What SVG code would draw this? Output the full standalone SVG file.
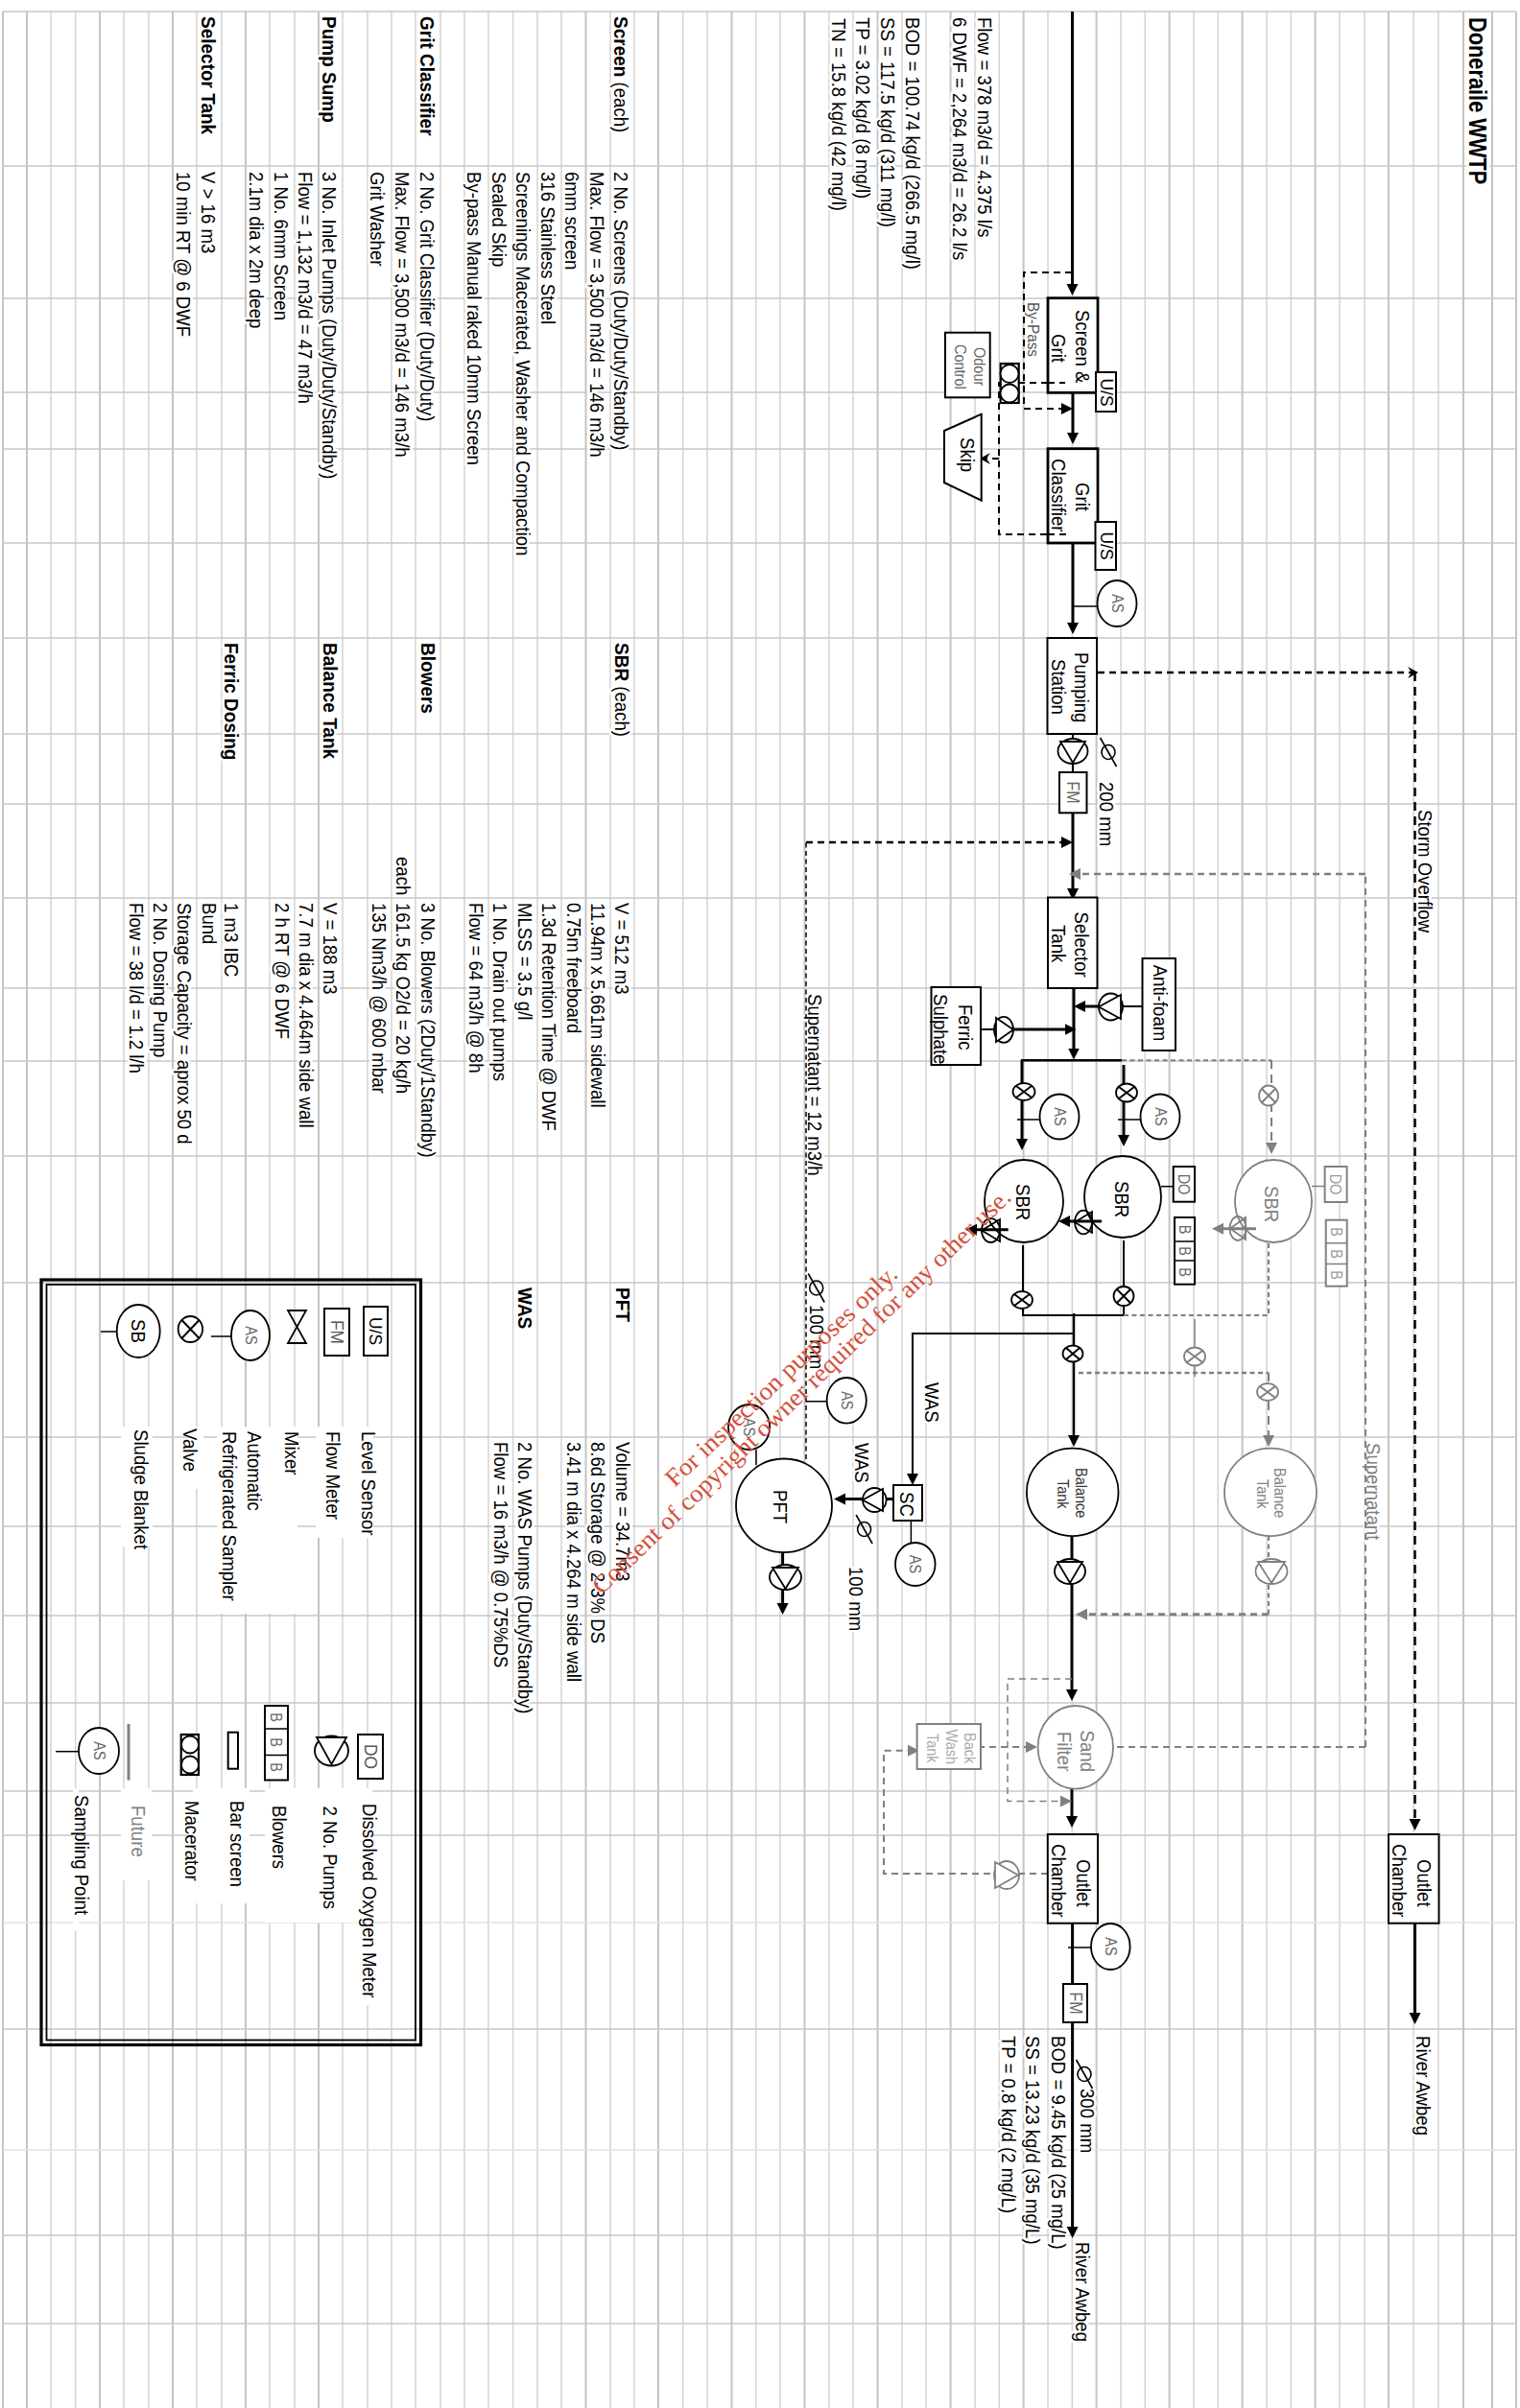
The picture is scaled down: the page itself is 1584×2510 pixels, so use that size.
<svg xmlns="http://www.w3.org/2000/svg" xmlns:xlink="http://www.w3.org/1999/xlink" width="1584" height="2510" viewBox="0 0 1584 2510">
<style>
text{font-family:"Liberation Sans",Arial,sans-serif;font-size:18.6px;fill:#000}
.lbl{paint-order:stroke;stroke:#fff;stroke-width:5px;stroke-linejoin:round}
.b{font-weight:bold;font-size:19px}
.gt{fill:#808080}
.dk{fill:#555}
.s{font-size:14.5px;fill:#666}
.m{text-anchor:middle}
.wm{font-family:"Liberation Serif","Times New Roman",serif;font-size:26px;fill:#d4503c}
.box{fill:#fff;stroke:#000;stroke-width:2}
.thick{stroke-width:2.8}
.gbox{fill:#fff;stroke:#808080;stroke-width:2}
.sym{fill:#fff;stroke:#000;stroke-width:1.8}
.gsym{fill:#fff;stroke:#808080;stroke-width:1.8}
.c{fill:none;stroke:#000;stroke-width:2}
.g{fill:none;stroke:#808080;stroke-width:2}
.w3{stroke-width:3}
.w15{stroke-width:1.5}
.d{stroke-dasharray:7 5}
.dl{stroke-dasharray:9 6}
.ds{stroke-dasharray:5 3.5}
.ak{marker-end:url(#ak)}
.ag{marker-end:url(#ag)}
.bk{marker-end:url(#bk)}
</style>
<defs>
<marker id="ak" markerUnits="userSpaceOnUse" markerWidth="13" markerHeight="13" refX="6" refY="6" orient="auto"><path d="M0 0L12 6L0 12Z" fill="#000"/></marker>
<marker id="ag" markerUnits="userSpaceOnUse" markerWidth="13" markerHeight="13" refX="6" refY="6" orient="auto"><path d="M0 0L12 6L0 12Z" fill="#808080"/></marker>
<marker id="bk" markerUnits="userSpaceOnUse" markerWidth="13" markerHeight="13" refX="9" refY="6" orient="auto"><path d="M0 0L11 6L0 12L4 6Z" fill="#000"/></marker>
<g id="dia"><ellipse cx="0" cy="0" rx="7" ry="7.5" fill="none" stroke="#000" stroke-width="1.6"/><path d="M-8.5 -15L8.5 15" stroke="#000" stroke-width="1.6" fill="none"/></g>
</defs>
<rect width="1584" height="2510" fill="#fff"/>
<g id="grid" fill="none">
<path stroke="#d4d4d4" stroke-width="1.5" d="M53 12V2510M78.7 12V2510M129 12V2510M155 12V2510M205 12V2510M231 12V2510M281 12V2510M307 12V2510M357 12V2510M383 12V2510M408 12V2510M433 12V2510M459 12V2510M484 12V2510M509 12V2510M534.6 12V2510M560 12V2510M585 12V2510M636 12V2510M661 12V2510M711.7 12V2510M737 12V2510M787.7 12V2510M813 12V2510M864 12V2510M889 12V2510M940 12V2510M965 12V2510M1016 12V2510M1041.3 12V2510M1092 12V2510M1117.3 12V2510M1168 12V2510M1193.3 12V2510M1244 12V2510M1269.3 12V2510M1320 12V2510M1345.3 12V2510M1396 12V2510M1422 12V2510M1473 12V2510M1499 12V2510"/>
<path stroke="#c4c4c4" stroke-width="2" d="M3 12V2510M28 12V2510M104 12V2510M180 12V2510M256 12V2510M332 12V2510M610.5 12V2510M686 12V2510M762.5 12V2510M838.5 12V2510M914.6 12V2510M990.6 12V2510M1066.6 12V2510M1142.6 12V2510M1218.6 12V2510M1294.6 12V2510M1370.6 12V2510M1447 12V2510M1525 12V2510M1555 12V2510M1580 12V2510"/>
<path stroke="#c8c8c8" stroke-width="1.5" d="M3 12H1580M3 173H1580M3 311H1580M3 409H1580M3 468H1580M3 566H1580M3 665H1580M3 765H1580M3 838H1580M3 936H1580M3 1030H1580M3 1106H1580M3 1205H1580M3 1337H1580M3 1498H1580M3 1591H1580M3 1684H1580M3 1775H1580M3 1867H1580M3 1913H1580M3 2115H1580M3 2330H1580M3 2422H1580"/>
<path stroke="#e2e2e2" stroke-width="1.5" d="M3 2004H1580M3 2241H1580"/>
</g>
<g id="legend-masks" fill="#fff">
<rect x="329" y="1487" width="60" height="116"/>
<rect x="226" y="1487" width="84" height="195"/>
<rect x="200" y="1487" width="12" height="65"/>
<rect x="126" y="1487" width="33" height="125"/>
<rect x="276" y="1864" width="112" height="140"/>
<rect x="380" y="1864" width="8" height="226"/>
<rect x="201" y="1864" width="59" height="120"/>
<rect x="76" y="1864" width="6" height="148"/>
<rect x="126" y="1864" width="32" height="96"/>
</g>
<g id="notes">
<text class="b lbl" transform="matrix(0 1 -1.16 0 1531 18)" style="font-size:21.8px">Doneraile WWTP</text>
<text class="lbl" transform="matrix(0 1 -1.1 0 1019 18)">Flow = 378 m3/d = 4.375 l/s</text>
<text class="lbl" transform="matrix(0 1 -1.1 0 993 18)">6 DWF = 2,264 m3/d = 26.2 l/s</text>
<text class="lbl" transform="matrix(0 1 -1.1 0 944 18)">BOD = 100.74 kg/d (266.5 mg/l)</text>
<text class="lbl" transform="matrix(0 1 -1.1 0 917.5 18)">SS = 117.5 kg/d (311 mg/l)</text>
<text class="lbl" transform="matrix(0 1 -1.1 0 892 18)">TP = 3.02 kg/d (8 mg/l)</text>
<text class="lbl" transform="matrix(0 1 -1.1 0 867 19)">TN = 15.8 kg/d (42 mg/l)</text>
</g>
<g id="specs" transform="translate(1.5 0)">
<text class="lbl" transform="matrix(0 1 -1.1 0 638 17)"><tspan class="b">Screen</tspan> (each)</text>
<text class="lbl" transform="matrix(0 1 -1.1 0 638 179)">2 No. Screens (Duty/Duty/Standby)</text>
<text class="lbl" transform="matrix(0 1 -1.1 0 613 179)">Max. Flow = 3,500 m3/d = 146 m3/h</text>
<text class="lbl" transform="matrix(0 1 -1.1 0 587 179)">6mm screen</text>
<text class="lbl" transform="matrix(0 1 -1.1 0 562 179)">316 Stainless Steel</text>
<text class="lbl" transform="matrix(0 1 -1.1 0 536 179)">Screenings Macerated, Washer and Compaction</text>
<text class="lbl" transform="matrix(0 1 -1.1 0 511 179)">Sealed Skip</text>
<text class="lbl" transform="matrix(0 1 -1.1 0 485 179)">By-pass Manual raked 10mm Screen</text>
<text class="b lbl" transform="matrix(0 1 -1.1 0 436 17)">Grit Classifier</text>
<text class="lbl" transform="matrix(0 1 -1.1 0 436 179)">2 No. Grit Classifier (Duty/Duty)</text>
<text class="lbl" transform="matrix(0 1 -1.1 0 410 179)">Max. Flow = 3,500 m3/d = 146 m3/h</text>
<text class="lbl" transform="matrix(0 1 -1.1 0 384 179)">Grit Washer</text>
<text class="b lbl" transform="matrix(0 1 -1.1 0 334 17)">Pump Sump</text>
<text class="lbl" transform="matrix(0 1 -1.1 0 334 179)">3 No. Inlet Pumps (Duty/Duty/Standby)</text>
<text class="lbl" transform="matrix(0 1 -1.1 0 309 179)">Flow = 1,132 m3/d = 47 m3/h</text>
<text class="lbl" transform="matrix(0 1 -1.1 0 284 179)">1 No. 6mm Screen</text>
<text class="lbl" transform="matrix(0 1 -1.1 0 258 179)">2.1m dia x 2m deep</text>
<text class="b lbl" transform="matrix(0 1 -1.1 0 208 17)">Selector Tank</text>
<text class="lbl" transform="matrix(0 1 -1.1 0 208 179)">V &gt; 16 m3</text>
<text class="lbl" transform="matrix(0 1 -1.1 0 182 179)">10 min RT @ 6 DWF</text>

<text class="lbl" transform="matrix(0 1 -1.1 0 639 670)"><tspan class="b">SBR</tspan> (each)</text>
<text class="lbl" transform="matrix(0 1 -1.1 0 639 941)">V = 512 m3</text>
<text class="lbl" transform="matrix(0 1 -1.1 0 614 941)">11.94m x 5.661m sidewall</text>
<text class="lbl" transform="matrix(0 1 -1.1 0 589 941)">0.75m freeboard</text>
<text class="lbl" transform="matrix(0 1 -1.1 0 563.6 941)">1.3d Retention Time @ DWF</text>
<text class="lbl" transform="matrix(0 1 -1.1 0 538.6 941)">MLSS = 3.5 g/l</text>
<text class="lbl" transform="matrix(0 1 -1.1 0 512.5 941)">1 No. Drain out pumps</text>
<text class="lbl" transform="matrix(0 1 -1.1 0 487.5 941)">Flow = 64 m3/h @ 8h</text>
<text class="b lbl" transform="matrix(0 1 -1.1 0 437 670)">Blowers</text>
<text class="lbl" transform="matrix(0 1 -1.1 0 437 941)">3 No. Blowers (2Duty/1Standby)</text>
<text class="lbl" transform="matrix(0 1 -1.1 0 411 893)">each</text>
<text class="lbl" transform="matrix(0 1 -1.1 0 411 941)">161.5 kg O2/d = 20 kg/h</text>
<text class="lbl" transform="matrix(0 1 -1.1 0 386 941)">135 Nm3/h @ 600 mbar</text>
<text class="b lbl" transform="matrix(0 1 -1.1 0 335 670)">Balance Tank</text>
<text class="lbl" transform="matrix(0 1 -1.1 0 335 941)">V = 188 m3</text>
<text class="lbl" transform="matrix(0 1 -1.1 0 310 941)">7.7 m dia x 4.464m side wall</text>
<text class="lbl" transform="matrix(0 1 -1.1 0 285 941)">2 h RT @ 6 DWF</text>
<text class="b lbl" transform="matrix(0 1 -1.1 0 232 670)">Ferric Dosing</text>
<text class="lbl" transform="matrix(0 1 -1.1 0 232 941)">1 m3 IBC</text>
<text class="lbl" transform="matrix(0 1 -1.1 0 209 941)">Bund</text>
<text class="lbl" transform="matrix(0 1 -1.1 0 183 941)">Storage Capacity = aprox 50 d</text>
<text class="lbl" transform="matrix(0 1 -1.1 0 158 941)">2 No. Dosing Pump</text>
<text class="lbl" transform="matrix(0 1 -1.1 0 133 941)">Flow = 38 l/d = 1.2 l/h</text>

<text class="b lbl" transform="matrix(0 1 -1.1 0 640 1342)">PFT</text>
<text class="lbl" transform="matrix(0 1 -1.1 0 640 1503)">Volume = 34.7m3</text>
<text class="lbl" transform="matrix(0 1 -1.1 0 614 1503)">8.6d Storage @ 2-3% DS</text>
<text class="lbl" transform="matrix(0 1 -1.1 0 589 1503)">3.41 m dia x 4.264 m side wall</text>
<text class="b lbl" transform="matrix(0 1 -1.1 0 538 1342)">WAS</text>
<text class="lbl" transform="matrix(0 1 -1.1 0 538 1503)">2 No. WAS Pumps (Duty/Standby)</text>
<text class="lbl" transform="matrix(0 1 -1.1 0 513 1503)">Flow = 16 m3/h @ 0.75%DS</text>
</g>
<g id="labels">
<text class="lbl" transform="matrix(0 1 -1.1 0 1478 844)">Storm Overflow</text>
<text class="lbl" transform="matrix(0 1 -1.1 0 842 1036)">Supernatant = 12 m3/h</text>
<text class="lbl gt" transform="matrix(0 1 -1.1 0 1424 1504)">Supernatant</text>
<text class="lbl dk" transform="matrix(0 1 -1.1 0 1071 315)" style="font-size:15.3px">By-Pass</text>
<text class="lbl" transform="matrix(0 1 -1.1 0 1146 815)">200 mm</text>
<text class="lbl" transform="matrix(0 1 -1.1 0 964 1441)">WAS</text>
<text class="lbl" transform="matrix(0 1 -1.1 0 891 1504)">WAS</text>
<text class="lbl" transform="matrix(0 1 -1.1 0 885 1633)">100 mm</text>
<text class="lbl" transform="matrix(0 1 -1.1 0 844 1360)">100 mm</text>
<text class="lbl" transform="matrix(0 1 -1.1 0 1125.5 2177)">300 mm</text>
<text class="lbl" transform="matrix(0 1 -1.1 0 1095.5 2122)">BOD = 9.45 kg/d (25 mg/L)</text>
<text class="lbl" transform="matrix(0 1 -1.1 0 1069 2122)">SS = 13.23 kg/d (35 mg/L)</text>
<text class="lbl" transform="matrix(0 1 -1.1 0 1044 2122)">TP = 0.8 kg/d (2 mg/L)</text>
<text class="lbl" transform="matrix(0 1 -1.1 0 1476 2122)">River Awbeg</text>
<text class="lbl" transform="matrix(0 1 -1.1 0 1121 2337)">River Awbeg</text>
</g>
<g id="connectors">
<path class="c w3 ak" d="M1117.5 12V302"/>
<path class="c w3 ak" d="M1118 409V457"/>
<path class="c w3 ak" d="M1118 566V655"/>
<path class="c w15" d="M1118 632H1144"/>
<path class="c" d="M1118 765V805"/>
<path class="c w3 ak" d="M1118 847V932"/>
<path class="c d ak" d="M1117 284H1067V426H1112"/>
<path class="c d" d="M1092 399H1041V557H1092"/>
<path class="c d bk" d="M1041 478H1023"/>
<path class="c d bk" d="M1144 701H1476" style="stroke-width:2.5"/>
<path class="c dl ak" d="M1474.5 701V1902" style="stroke-width:2.5"/>
<path class="c w15 ds" d="M840 1521V878"/>
<path class="c d ak" d="M840 878H1112" style="stroke-width:2.6"/>
<path class="g d" d="M1423 1821V911"/>
<path class="g d ag" d="M1423 911H1120" style="stroke-width:2.6"/>
<path class="g d" d="M1423 1821H1160"/>
<path class="c w3 ak" d="M1119 1030V1098.5"/>
<path class="c" d="M1191 1049H1170"/>
<path class="c w3 ak" d="M1145 1049H1125"/>
<path class="c" d="M1016 1073H1036"/>
<path class="c w3 ak" d="M1056 1073H1115.5"/>
<path class="c" d="M1064 1105.3H1169" style="stroke-width:2.5"/>
<path class="g ds" d="M1169 1105.3H1325"/>
<path class="g dl ag" d="M1325 1105V1197"/>
<path class="c w3 ak" d="M1065 1105V1193"/>
<path class="c w3 ak" d="M1171 1110V1189"/>
<path class="c w15" d="M1060 1167H1084M1165 1167H1189"/>
<path class="c" d="M1066 1298V1371H1171V1293"/>
<path class="g ds" d="M1171 1371H1322V1295"/>
<path class="c w3 ak" d="M1119 1369V1502" style="stroke-width:2.5"/>
<path class="c ak" d="M1119 1390H951V1542"/>
<path class="g w15" d="M1245 1375V1435"/>
<path class="g ds" d="M1124 1431H1322" style="stroke-width:2.6"/>
<path class="g dl ag" d="M1322 1431V1502"/>
<path class="g ds" d="M1322 1601V1684"/>
<path class="g d ag" d="M1322 1682.7H1127" style="stroke-width:3"/>
<path class="c w3 ak" d="M1117 1601V1767"/>
<path class="c w3 ak" d="M1117 1864V1899"/>
<path class="c w3 ak" d="M1117.6 2005V2327"/>
<path class="c w15" d="M1113 2030H1137"/>
<path class="c w3 ak" d="M1474.5 2005V2104"/>
<path class="g d ag" d="M1019 1821H1075"/>
<path class="g w15 d ag" d="M1117 1750H1050V1877.5H1111"/>
<path class="g d ag" d="M1092 1953H921V1824.7H952"/>
<path class="c w3 ak" d="M931 1562.5H875"/>
<path class="c w15" d="M949.4 1585V1608M840 1460.7H862M788 1511V1527"/>
<path class="c w3 ak" d="M815.6 1618V1677"/>
<path class="c w15" d="M1210 1236.7H1223"/>
<path class="g w15" d="M1367 1236.5H1381"/>
</g>
<g id="screen"><rect class="box thick" x="1092" y="310.7" width="52" height="98.6"/><text transform="matrix(0 1 -1.1 0 1121 323)">Screen  &amp;</text><text transform="matrix(0 1 -1.1 0 1096 348)">Grit</text></g>
<g id="us1"><rect class="box" x="1142" y="388" width="21" height="41"/><text class="m" transform="matrix(0 1 -1.1 0 1147 409)" style="font-size:17.4px">U/S</text></g>
<g id="grit"><rect class="box thick" x="1092" y="467.7" width="52" height="98.3"/><text transform="matrix(0 1 -1.1 0 1121 503)">Grit</text><text transform="matrix(0 1 -1.1 0 1096 478)">Classifier</text></g>
<g id="us2"><rect class="box" x="1141.5" y="544" width="21.5" height="50"/><text class="m" transform="matrix(0 1 -1.1 0 1147 569)" style="font-size:17.4px">U/S</text></g>
<g id="odour"><rect class="box" x="985" y="346.7" width="46.7" height="67.6"/><text class="s" transform="matrix(0 1 -1.1 0 1015 362)">Odour</text><text class="s" transform="matrix(0 1 -1.1 0 995 359)">Control</text></g>
<g id="macerator"><rect class="sym" x="1042.7" y="379" width="19" height="41" style="stroke-width:2.2"/><circle class="sym" cx="1052" cy="389.5" r="9.5"/><circle class="sym" cx="1052" cy="410" r="9.5"/></g>
<g id="skip"><path class="box" d="M984 449L1022.7 431.7V521.7L984 503Z"/><text transform="matrix(0 1 -1.1 0 1001 456)">Skip</text></g>
<g id="as-grit"><ellipse class="sym" cx="1164" cy="629" rx="20.5" ry="24"/><text class="s m" transform="matrix(0 1 -1.1 0 1158.5 629)">AS</text></g>
<g id="pumping"><rect class="box" x="1091.5" y="665" width="51.5" height="100"/><text transform="matrix(0 1 -1.1 0 1120 680)">Pumping</text><text transform="matrix(0 1 -1.1 0 1096 687)">Station</text></g>
<g id="pump-inlet"><ellipse class="sym" cx="1118" cy="783" rx="15.5" ry="13"/><path class="sym" d="M1105 773H1131L1118 795Z"/></g>
<use xlink:href="#dia" href="#dia" x="1155" y="784"/>
<g id="fm1"><rect class="box" x="1104" y="805" width="28.5" height="42.3"/><text class="s m" transform="matrix(0 1 -1.1 0 1112 826)" style="font-size:16px">FM</text></g>
<g id="selector"><rect class="box" x="1092" y="935.5" width="51.5" height="94.5"/><text transform="matrix(0 1 -1.1 0 1120 950.6)">Selector</text><text transform="matrix(0 1 -1.1 0 1096 964)">Tank</text></g>
<g id="antifoam"><rect class="box" x="1190.5" y="999" width="34.5" height="96"/><text transform="matrix(0 1 -1.1 0 1201.5 1005.7)">Anti-foam</text></g>
<g id="pump-antifoam"><ellipse class="sym" cx="1157.5" cy="1049.5" rx="12.5" ry="14"/><path class="sym" d="M1168 1037V1062L1145 1049.5Z"/></g>
<g id="ferric"><rect class="box" x="970.5" y="1029" width="51.5" height="81"/><text transform="matrix(0 1 -1.1 0 998.5 1047)">Ferric</text><text transform="matrix(0 1 -1.1 0 972.5 1036)">Sulphate</text></g>
<g id="pump-ferric"><ellipse class="sym" cx="1046" cy="1073.3" rx="10" ry="13.5"/><path class="sym" d="M1038 1061V1086L1056 1073.3Z"/></g>
<g id="valves-in">
<ellipse class="sym" cx="1067" cy="1138" rx="11.5" ry="9"/><path class="c" d="M1059 1132L1075 1144M1075 1132L1059 1144"/>
<ellipse class="sym" cx="1174" cy="1139" rx="11" ry="9.5"/><path class="c" d="M1166 1133L1182 1145M1182 1133L1166 1145"/>
<ellipse class="gsym" cx="1322" cy="1142" rx="10" ry="10.5"/><path class="g" d="M1315 1135L1329 1149M1329 1135L1315 1149"/>
</g>
<g id="as-sbr1"><ellipse class="sym" cx="1104" cy="1164" rx="20.5" ry="23.5"/><text class="s m" transform="matrix(0 1 -1.1 0 1098.5 1164)">AS</text></g>
<g id="as-sbr2"><ellipse class="sym" cx="1209" cy="1164" rx="20.5" ry="23.5"/><text class="s m" transform="matrix(0 1 -1.1 0 1203.5 1164)">AS</text></g>
<g id="sbr1"><ellipse class="sym" cx="1067" cy="1252" rx="41" ry="43"/><text transform="matrix(0 1 -1.1 0 1059 1234)">SBR</text></g>
<g id="sbr2"><ellipse class="sym" cx="1170" cy="1247.5" rx="40" ry="42.5"/><text transform="matrix(0 1 -1.1 0 1162 1231)">SBR</text></g>
<g id="sbr3"><ellipse class="gsym" cx="1327" cy="1252" rx="40" ry="43"/><text class="gt" transform="matrix(0 1 -1.1 0 1318 1236)">SBR</text></g>
<g id="do1"><rect class="box" x="1222.7" y="1216" width="22.3" height="36.7"/><text class="s m" transform="matrix(0 1 -1.1 0 1228 1234.5)">DO</text></g>
<g id="do2"><rect class="gbox" x="1380.6" y="1216" width="23" height="37"/><text class="s m" style="fill:#999" transform="matrix(0 1 -1.1 0 1386 1234.5)">DO</text></g>
<g id="blowers1"><rect class="box" x="1224" y="1269" width="21" height="69.7"/><path class="c w15" d="M1224 1294H1245M1224 1314H1245"/><text class="s m" transform="matrix(0 1 -1.1 0 1229 1281.5)">B</text><text class="s m" transform="matrix(0 1 -1.1 0 1229 1304)">B</text><text class="s m" transform="matrix(0 1 -1.1 0 1229 1326)">B</text></g>
<g id="blowers2"><rect class="gbox" x="1381.7" y="1271.7" width="22" height="69"/><path class="g w15" d="M1381.7 1295.8H1403.7M1381.7 1317.6H1403.7"/><text class="s m" style="fill:#999" transform="matrix(0 1 -1.1 0 1387 1284)">B</text><text class="s m" style="fill:#999" transform="matrix(0 1 -1.1 0 1387 1307)">B</text><text class="s m" style="fill:#999" transform="matrix(0 1 -1.1 0 1387 1329)">B</text></g>
<g id="pump-sbr2"><ellipse class="sym" cx="1129" cy="1274" rx="9" ry="12.3" style="fill:none"/><path class="sym" d="M1138 1263V1285L1120 1274Z" style="fill:none"/></g>
<g id="pump-sbr1"><ellipse class="sym" cx="1032.5" cy="1282.5" rx="9.5" ry="12.5" style="fill:none"/><path class="sym" d="M1042 1271V1294L1023 1282.5Z" style="fill:none"/></g>
<g id="pump-sbr3"><ellipse class="gsym" cx="1290" cy="1280.5" rx="8.5" ry="12.5" style="fill:none"/><path class="gsym" d="M1298 1269V1292L1282 1280.5Z" style="fill:none"/></g>
<g id="valves-out">
<ellipse class="sym" cx="1065" cy="1355" rx="11" ry="9"/><path class="c" d="M1057 1349L1073 1361M1073 1349L1057 1361"/>
<ellipse class="sym" cx="1171" cy="1351" rx="10.5" ry="10"/><path class="c" d="M1164 1344L1178 1358M1178 1344L1164 1358"/>
<ellipse class="sym" cx="1118" cy="1411" rx="10.5" ry="8.5"/><path class="c" d="M1111 1405L1125 1417M1125 1405L1111 1417"/>
<ellipse class="gsym" cx="1245" cy="1414" rx="11" ry="9.5"/><path class="g" d="M1237 1408L1253 1420M1253 1408L1237 1420"/>
<ellipse class="gsym" cx="1321" cy="1451" rx="11" ry="9"/><path class="g" d="M1313 1445L1329 1457M1329 1445L1313 1457"/>
</g>
<g id="was-sc"><rect class="box" x="931" y="1548" width="30" height="37"/><text transform="matrix(0 1 -1.1 0 938 1555)">SC</text></g>
<g id="as-was"><ellipse class="sym" cx="953.8" cy="1630.5" rx="20.8" ry="22.5"/><text class="s m" transform="matrix(0 1 -1.1 0 948.3 1630.5)">AS</text></g>
<g id="pump-was"><ellipse class="sym" cx="911.3" cy="1563.5" rx="12.3" ry="12.5"/><path class="sym" d="M920 1552V1575L899 1563.5Z"/></g>
<use xlink:href="#dia" href="#dia" x="900.6" y="1594"/>
<use xlink:href="#dia" href="#dia" x="850.7" y="1342.5"/>
<use xlink:href="#dia" href="#dia" x="1130" y="2162"/>
<g id="as-super"><ellipse class="sym" cx="882.2" cy="1459.8" rx="20.6" ry="23.8"/><text class="s m" transform="matrix(0 1 -1.1 0 876.7 1459.8)">AS</text></g>
<g id="as-pft"><ellipse class="sym" cx="780.6" cy="1487.5" rx="21.6" ry="23.5"/><text class="s m" transform="matrix(0 1 -1.1 0 775 1487.5)">AS</text></g>
<g id="pft"><ellipse class="sym" cx="817" cy="1569.3" rx="50" ry="48.8"/><text transform="matrix(0 1 -1.1 0 805.7 1553)">PFT</text></g>
<g id="pump-pft"><ellipse class="sym" cx="818.5" cy="1644" rx="16.5" ry="13"/><path class="sym" d="M805 1634H832L818.5 1656Z"/></g>
<g id="balance"><ellipse class="sym" cx="1117.7" cy="1555.4" rx="47.8" ry="45.7"/><text class="s" style="fill:#333" transform="matrix(0 1 -1.1 0 1121 1530)">Balance</text><text class="s" style="fill:#333" transform="matrix(0 1 -1.1 0 1102 1542)">Tank</text></g>
<g id="balance2"><ellipse class="gsym" cx="1324" cy="1555.4" rx="48" ry="45.7"/><text class="s" style="fill:#808080" transform="matrix(0 1 -1.1 0 1328 1530)">Balance</text><text class="s" style="fill:#808080" transform="matrix(0 1 -1.1 0 1310 1542)">Tank</text></g>
<g id="pump-bal"><ellipse class="sym" cx="1115" cy="1638" rx="16" ry="13"/><path class="sym" d="M1102 1628H1128L1115 1650Z"/></g>
<g id="pump-bal2"><ellipse class="gsym" cx="1325" cy="1638" rx="16.5" ry="13"/><path class="gsym" d="M1311 1628H1339L1325 1650Z"/></g>
<g id="sand"><ellipse class="gsym" cx="1120.8" cy="1821.3" rx="39.2" ry="43.3"/><text class="gt" transform="matrix(0 1 -1.1 0 1126 1803.6)">Sand</text><text class="gt" transform="matrix(0 1 -1.1 0 1101.5 1805)">Filter</text></g>
<g id="backwash"><rect class="gbox" x="955.6" y="1797" width="66.4" height="47"/><text class="s" style="fill:#aaa" transform="matrix(0 1 -1.1 0 1005 1806)">Back</text><text class="s" style="fill:#aaa" transform="matrix(0 1 -1.1 0 985.6 1802.6)">Wash</text><text class="s" style="fill:#aaa" transform="matrix(0 1 -1.1 0 966 1807)">Tank</text></g>
<g id="pump-back"><ellipse class="gsym" cx="1049" cy="1954.5" rx="13" ry="14.5"/><path class="gsym" d="M1037 1954.5L1061 1941V1968Z" transform="rotate(180 1049 1954.5)"/></g>
<g id="outlet"><rect class="box" x="1091.8" y="1912" width="52.2" height="92.7"/><text transform="matrix(0 1 -1.1 0 1121.8 1938)">Outlet</text><text transform="matrix(0 1 -1.1 0 1096 1922)">Chamber</text></g>
<g id="outlet2"><rect class="box" x="1447" y="1912" width="52.5" height="92.7"/><text transform="matrix(0 1 -1.1 0 1477 1938)">Outlet</text><text transform="matrix(0 1 -1.1 0 1451 1922)">Chamber</text></g>
<g id="as-out"><ellipse class="sym" cx="1157.3" cy="2029" rx="20.3" ry="24"/><text class="s m" transform="matrix(0 1 -1.1 0 1151.8 2029)">AS</text></g>
<g id="fm2"><rect class="box" x="1108" y="2068" width="25" height="40"/><text class="s m" style="font-size:16px" transform="matrix(0 1 -1.1 0 1115 2088)">FM</text></g>
<g id="connectors-over">
<path class="c d" d="M1092 399H1110M1092 557H1115"/>
<path class="c w3 ak" d="M1148 1273H1109"/>
<path class="c w3 ak" d="M1050.7 1281.7H1012"/>
<path class="g w3 ag" d="M1309 1280.7H1269"/>
</g>
<g id="legend">
<rect x="43" y="1334" width="395.5" height="797.5" fill="none" stroke="#000" stroke-width="3.2"/>
<rect x="48.5" y="1339" width="384.5" height="787.5" fill="none" stroke="#000" stroke-width="1.8"/>
<g id="lg-us"><rect class="box" x="379" y="1362" width="25" height="51"/><text class="m" transform="matrix(0 1 -1.1 0 385 1387.5)" style="font-size:17.4px">U/S</text><text transform="matrix(0 1 -1.1 0 377 1492)">Level Sensor</text></g>
<g id="lg-fm"><rect class="box" x="338" y="1364" width="26" height="49"/><text class="m dk" transform="matrix(0 1 -1.1 0 345 1388.5)" style="font-size:17.4px">FM</text><text transform="matrix(0 1 -1.1 0 340 1492)">Flow Meter</text></g>
<g id="lg-mixer"><path class="sym" d="M300 1366H319L300 1400H319Z" style="fill:none"/><text transform="matrix(0 1 -1.1 0 297 1492)">Mixer</text></g>
<g id="lg-as"><path class="c w15" d="M220 1393H241"/><ellipse class="sym" cx="261" cy="1392" rx="20" ry="26"/><text class="s m" transform="matrix(0 1 -1.1 0 255.5 1392)">AS</text><text transform="matrix(0 1 -1.1 0 258 1492)">Automatic</text><text transform="matrix(0 1 -1.1 0 232 1492)">Refrigerated Sampler</text></g>
<g id="lg-valve"><ellipse class="sym" cx="198.4" cy="1385.5" rx="12.7" ry="13.5"/><path class="c" d="M189.5 1376L207.5 1395M207.5 1376L189.5 1395"/><text transform="matrix(0 1 -1.1 0 191 1489)">Valve</text></g>
<g id="lg-sb"><path class="c w15" d="M105 1388H122"/><ellipse class="sym" cx="144.2" cy="1387.5" rx="22.5" ry="27.5"/><text class="m" transform="matrix(0 1 -1.1 0 137 1387.5)">SB</text><text transform="matrix(0 1 -1.1 0 140 1490)">Sludge Blanket</text></g>
<g id="lg-do"><rect class="box" x="373" y="1808" width="26" height="46"/><text class="m dk" transform="matrix(0 1 -1.1 0 379.5 1831)" style="font-size:17.4px">DO</text><text transform="matrix(0 1 -1.1 0 378 1880)">Dissolved Oxygen Meter</text></g>
<g id="lg-pump"><ellipse class="sym" cx="345.5" cy="1825" rx="17.5" ry="15.5"/><path class="sym" d="M330 1811H361L345.5 1839Z"/><text transform="matrix(0 1 -1.1 0 337 1882.6)">2 No. Pumps</text></g>
<g id="lg-blowers"><rect class="box" x="276" y="1778" width="24" height="77.5"/><path class="c w15" d="M276 1802H300M276 1829.5H300"/><text class="s m" transform="matrix(0 1 -1.1 0 282 1790)">B</text><text class="s m" transform="matrix(0 1 -1.1 0 282 1816)">B</text><text class="s m" transform="matrix(0 1 -1.1 0 282 1842)">B</text><text transform="matrix(0 1 -1.1 0 284 1882)">Blowers</text></g>
<g id="lg-bar"><rect class="box" x="237.7" y="1805.7" width="10.3" height="38"/><text transform="matrix(0 1 -1.1 0 240 1877)">Bar screen</text></g>
<g id="lg-mac"><rect class="sym" x="188.7" y="1808" width="18.3" height="42" style="stroke-width:2.2"/><circle class="sym" cx="198" cy="1818.5" r="9"/><circle class="sym" cx="198" cy="1839.5" r="9"/><text transform="matrix(0 1 -1.1 0 193 1877)">Macerator</text></g>
<g id="lg-future"><path d="M134 1797V1855.6" stroke="#808080" stroke-width="3" fill="none"/><text class="gt" transform="matrix(0 1 -1.1 0 137 1882)">Future</text></g>
<g id="lg-sp"><path class="c w15" d="M58 1825.7H82"/><ellipse class="sym" cx="103" cy="1825" rx="21" ry="24"/><text class="s m" transform="matrix(0 1 -1.1 0 97.5 1825)">AS</text><text transform="matrix(0 1 -1.1 0 78 1871)">Sampling Point</text></g>
</g>
<g id="watermark">
<text class="wm" transform="translate(703 1551) rotate(-43.4)" textLength="322" lengthAdjust="spacingAndGlyphs">For inspection purposes only.</text>
<text class="wm" transform="translate(627 1663) rotate(-44)" textLength="595" lengthAdjust="spacingAndGlyphs">Consent of copyright owner required for any other use.</text>
</g>
</svg>
